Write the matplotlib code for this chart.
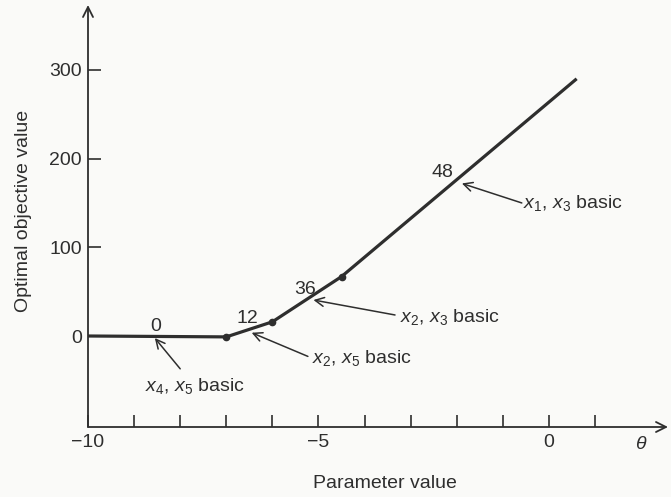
import matplotlib
matplotlib.use("Agg")
import matplotlib.pyplot as plt

# ---- data ----
theta = [-10, -7, -6, -4.5, 0.6]
objective = [0, -1, 16, 67, 290]

slope_labels = ["0", "12", "36", "48"]
slope_pos = [(-8.53, 5.6), (-6.54, 14.3), (-5.29, 47), (-2.31, 179)]

basis_labels = [r"$x_4$, $x_5$ basic", r"$x_2$, $x_5$ basic",
                r"$x_2$, $x_3$ basic", r"$x_1$, $x_3$ basic"]
arrow_tips = [(-8.55, -2.3), (-6.45, 3.7), (-5.11, 40.6), (-1.89, 172)]
arrow_tails = [(-8.0, -37), (-5.23, -23), (-3.34, 23.7), (-0.59, 150)]
text_pos = [(-8.76, -61.7), (-5.15, -30), (-3.23, 16.1), (-0.57, 144.6)]

xticks = list(range(-10, 2))
xtick_labels = ["\u221210", "", "", "", "", "\u22125", "", "", "", "", "0", ""]
yticks = [0, 100, 200, 300]
ytick_labels = ["0", "100", "200", "300"]

# ---- style ----
ink = "#2e2e2e"
bg = "#fafaf8"
fs = 14
plt.rcParams["font.family"] = ["Liberation Sans", "DejaVu Sans"]
plt.rcParams["mathtext.fontset"] = "custom"
plt.rcParams["mathtext.it"] = "Liberation Sans:italic"
plt.rcParams["mathtext.rm"] = "Liberation Sans"

fig = plt.figure(figsize=(6.71, 4.97), dpi=100, facecolor=bg)
ax = fig.add_axes([88/671, 70/497, 580/671, 422/497])
ax.set_facecolor(bg)
ax.set_xlim(-10, -10 + 580/46.1)
ax.set_ylim(-102.6, 373.2)

for s in ["top", "right", "left", "bottom"]:
    ax.spines[s].set_visible(False)

# axes with arrows
ax.annotate("", xy=(1.0, 0), xytext=(0, 0), xycoords="axes fraction",
            arrowprops=dict(arrowstyle="->", lw=1.3, color=ink,
                            shrinkA=0, shrinkB=0, mutation_scale=18),
            annotation_clip=False)
ax.annotate("", xy=(0, 1.0), xytext=(0, 0), xycoords="axes fraction",
            arrowprops=dict(arrowstyle="->", lw=1.3, color=ink,
                            shrinkA=0, shrinkB=0, mutation_scale=18),
            annotation_clip=False)

ax.set_xticks(xticks)
ax.set_xticklabels(xtick_labels)
ax.set_yticks(yticks)
ax.set_yticklabels(ytick_labels)
ax.tick_params(axis="x", direction="in", length=8.6, width=1.2, color=ink,
               labelcolor=ink, labelsize=fs, pad=5)
ax.tick_params(axis="y", direction="in", length=9, width=1.2, color=ink,
               labelcolor=ink, labelsize=fs, pad=4.5)

ax.text(2.0, -0.022, r"$\theta$", transform=ax.get_xaxis_transform(),
        ha="center", va="top", fontsize=fs, color=ink)

# main curve
ax.plot(theta, objective, color=ink, lw=2.3, solid_capstyle="butt", zorder=3)
ax.plot(theta[1:4], objective[1:4], "o", color=ink, ms=4.5, zorder=4)

for lab, (x, y) in zip(slope_labels, slope_pos):
    ax.text(x, y, lab, ha="center", va="baseline", fontsize=fs, color=ink)

for lab, tip, tail, tp in zip(basis_labels, arrow_tips, arrow_tails, text_pos):
    ax.annotate("", xy=tip, xytext=tail,
                arrowprops=dict(arrowstyle="->", lw=1.1, color=ink,
                                shrinkA=0, shrinkB=0, mutation_scale=16))
    ax.text(tp[0], tp[1], lab, ha="left", va="baseline", fontsize=fs,
            color=ink)

fig.text(385/671, 1 - 483/497, "Parameter value", ha="center", va="center",
         fontsize=fs, color=ink)
fig.text(24/671, 1 - 211/497, "Optimal objective value", ha="center",
         va="center", rotation=90, fontsize=fs, color=ink)

fig.savefig("out.png", dpi=100, facecolor=bg)
